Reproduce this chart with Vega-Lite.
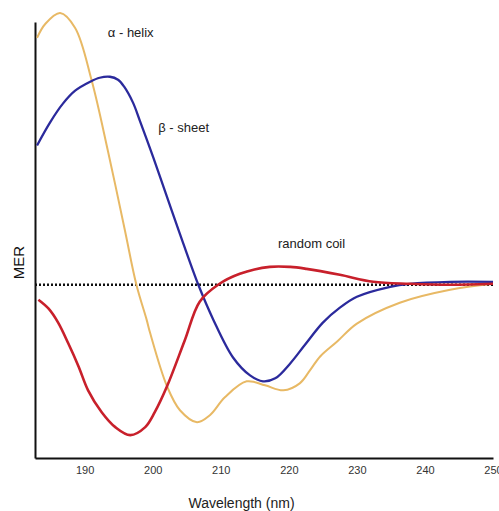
{
  "$schema": "https://vega.github.io/schema/vega-lite/v6.json",
  "width": 458,
  "height": 436,
  "autosize": {"type": "none"},
  "padding": {"left": 35, "top": 22, "right": 6, "bottom": 53},
  "background": "white",
  "config": {"view": {"stroke": null}, "font": "Liberation Sans"},
  "datasets": {
    "curves": [
      {"curve": "α-helix", "wavelength": 183.0, "mer": 2.48},
      {"curve": "α-helix", "wavelength": 184.2, "mer": 2.62},
      {"curve": "α-helix", "wavelength": 186.4, "mer": 2.73},
      {"curve": "α-helix", "wavelength": 188.6, "mer": 2.58},
      {"curve": "α-helix", "wavelength": 191.0, "mer": 2.06},
      {"curve": "α-helix", "wavelength": 193.4, "mer": 1.35},
      {"curve": "α-helix", "wavelength": 195.9, "mer": 0.55},
      {"curve": "α-helix", "wavelength": 197.6, "mer": 0.0},
      {"curve": "α-helix", "wavelength": 199.1, "mer": -0.35},
      {"curve": "α-helix", "wavelength": 199.6, "mer": -0.48},
      {"curve": "α-helix", "wavelength": 202.1, "mer": -1.02},
      {"curve": "α-helix", "wavelength": 204.0, "mer": -1.26},
      {"curve": "α-helix", "wavelength": 206.5, "mer": -1.38},
      {"curve": "α-helix", "wavelength": 208.4, "mer": -1.31},
      {"curve": "α-helix", "wavelength": 210.6, "mer": -1.13},
      {"curve": "α-helix", "wavelength": 213.8, "mer": -0.97},
      {"curve": "α-helix", "wavelength": 216.5, "mer": -1.01},
      {"curve": "α-helix", "wavelength": 219.2, "mer": -1.06},
      {"curve": "α-helix", "wavelength": 221.6, "mer": -0.99},
      {"curve": "α-helix", "wavelength": 223.1, "mer": -0.86},
      {"curve": "α-helix", "wavelength": 224.6, "mer": -0.72},
      {"curve": "α-helix", "wavelength": 227.1, "mer": -0.57},
      {"curve": "α-helix", "wavelength": 230.0, "mer": -0.39},
      {"curve": "α-helix", "wavelength": 236.3, "mer": -0.18},
      {"curve": "α-helix", "wavelength": 243.7, "mer": -0.05},
      {"curve": "α-helix", "wavelength": 250.0, "mer": 0.01},
      {"curve": "β-sheet", "wavelength": 183.0, "mer": 1.40},
      {"curve": "β-sheet", "wavelength": 184.9, "mer": 1.63},
      {"curve": "β-sheet", "wavelength": 186.8, "mer": 1.82},
      {"curve": "β-sheet", "wavelength": 188.6, "mer": 1.95},
      {"curve": "β-sheet", "wavelength": 190.8, "mer": 2.04},
      {"curve": "β-sheet", "wavelength": 192.2, "mer": 2.08},
      {"curve": "β-sheet", "wavelength": 193.7, "mer": 2.09},
      {"curve": "β-sheet", "wavelength": 194.9, "mer": 2.06},
      {"curve": "β-sheet", "wavelength": 195.8, "mer": 1.99},
      {"curve": "β-sheet", "wavelength": 197.1, "mer": 1.83},
      {"curve": "β-sheet", "wavelength": 198.1, "mer": 1.65},
      {"curve": "β-sheet", "wavelength": 199.6, "mer": 1.37},
      {"curve": "β-sheet", "wavelength": 201.0, "mer": 1.10},
      {"curve": "β-sheet", "wavelength": 203.9, "mer": 0.53},
      {"curve": "β-sheet", "wavelength": 206.7, "mer": 0.0},
      {"curve": "β-sheet", "wavelength": 208.9, "mer": -0.35},
      {"curve": "β-sheet", "wavelength": 211.8, "mer": -0.73},
      {"curve": "β-sheet", "wavelength": 214.3, "mer": -0.91},
      {"curve": "β-sheet", "wavelength": 216.2, "mer": -0.97},
      {"curve": "β-sheet", "wavelength": 218.0, "mer": -0.94},
      {"curve": "β-sheet", "wavelength": 220.2, "mer": -0.79},
      {"curve": "β-sheet", "wavelength": 222.4, "mer": -0.60},
      {"curve": "β-sheet", "wavelength": 225.0, "mer": -0.38},
      {"curve": "β-sheet", "wavelength": 227.5, "mer": -0.23},
      {"curve": "β-sheet", "wavelength": 230.0, "mer": -0.12},
      {"curve": "β-sheet", "wavelength": 234.9, "mer": -0.02},
      {"curve": "β-sheet", "wavelength": 237.8, "mer": 0.01},
      {"curve": "β-sheet", "wavelength": 243.7, "mer": 0.03},
      {"curve": "β-sheet", "wavelength": 250.0, "mer": 0.03},
      {"curve": "random coil", "wavelength": 183.2, "mer": -0.15},
      {"curve": "random coil", "wavelength": 184.7, "mer": -0.24},
      {"curve": "random coil", "wavelength": 186.1, "mer": -0.38},
      {"curve": "random coil", "wavelength": 187.6, "mer": -0.59},
      {"curve": "random coil", "wavelength": 189.1, "mer": -0.82},
      {"curve": "random coil", "wavelength": 190.5, "mer": -1.06},
      {"curve": "random coil", "wavelength": 192.5, "mer": -1.28},
      {"curve": "random coil", "wavelength": 194.5, "mer": -1.43},
      {"curve": "random coil", "wavelength": 196.7, "mer": -1.51},
      {"curve": "random coil", "wavelength": 198.9, "mer": -1.43},
      {"curve": "random coil", "wavelength": 200.3, "mer": -1.28},
      {"curve": "random coil", "wavelength": 202.1, "mer": -1.02},
      {"curve": "random coil", "wavelength": 204.7, "mer": -0.56},
      {"curve": "random coil", "wavelength": 206.9, "mer": -0.17},
      {"curve": "random coil", "wavelength": 209.6, "mer": 0.0},
      {"curve": "random coil", "wavelength": 212.8, "mer": 0.11},
      {"curve": "random coil", "wavelength": 217.2, "mer": 0.18},
      {"curve": "random coil", "wavelength": 220.2, "mer": 0.18},
      {"curve": "random coil", "wavelength": 222.6, "mer": 0.16},
      {"curve": "random coil", "wavelength": 227.5, "mer": 0.10},
      {"curve": "random coil", "wavelength": 232.4, "mer": 0.03},
      {"curve": "random coil", "wavelength": 237.8, "mer": 0.01},
      {"curve": "random coil", "wavelength": 243.7, "mer": 0.0},
      {"curve": "random coil", "wavelength": 250.0, "mer": 0.01}
    ],
    "labels": [
      {"label": "α - helix", "wavelength": 193.4, "mer": 2.53},
      {"label": "β - sheet", "wavelength": 200.8, "mer": 1.58},
      {"label": "random coil", "wavelength": 218.4, "mer": 0.41}
    ]
  },
  "layer": [
    {
      "data": {"values": [{"mer": 0}]},
      "mark": {"type": "rule", "color": "#111111", "strokeWidth": 2.5, "strokeDash": [2, 2], "clip": false},
      "encoding": {"y": {"field": "mer", "type": "quantitative"}}
    },
    {
      "data": {"name": "curves"},
      "mark": {"type": "line", "interpolate": "catmull-rom"},
      "encoding": {
        "x": {
          "field": "wavelength",
          "type": "quantitative",
          "scale": {"domain": [182.7, 250], "nice": false, "zero": false},
          "axis": {
            "values": [190, 200, 210, 220, 230, 240, 250],
            "title": "Wavelength (nm)",
            "grid": false,
            "ticks": false,
            "domainColor": "#111111",
            "domainWidth": 2,
            "labelFont": "Liberation Sans",
            "labelFontSize": 11,
            "labelColor": "#333333",
            "labelPadding": 6,
            "labelFlush": false,
            "labelOverlap": false,
            "titleFont": "Liberation Sans",
            "titleFontSize": 14,
            "titleFontWeight": "normal",
            "titleColor": "#222222",
            "titleX": 206,
            "titleY": 45,
            "titleBaseline": "middle"
          }
        },
        "y": {
          "field": "mer",
          "type": "quantitative",
          "scale": {"domain": [-1.74, 2.64], "nice": false, "zero": false},
          "axis": {
            "title": "MER",
            "labels": false,
            "ticks": false,
            "grid": false,
            "domainColor": "#111111",
            "domainWidth": 2,
            "titleFont": "Liberation Sans",
            "titleFontSize": 15,
            "titleFontWeight": "normal",
            "titleColor": "#111111",
            "titleX": -17,
            "titleY": 240,
            "titleAngle": -90,
            "titleBaseline": "middle"
          }
        },
        "color": {
          "field": "curve",
          "type": "nominal",
          "scale": {"domain": ["α-helix", "β-sheet", "random coil"], "range": ["#E8B965", "#2B2A9C", "#C8202B"]},
          "legend": null
        },
        "strokeWidth": {
          "field": "curve",
          "type": "nominal",
          "scale": {"domain": ["α-helix", "β-sheet", "random coil"], "range": [2, 2.6, 2.4]},
          "legend": null
        }
      }
    },
    {
      "data": {"name": "labels"},
      "mark": {"type": "text", "align": "left", "baseline": "middle", "font": "Liberation Sans", "fontSize": 13, "color": "#222222"},
      "encoding": {
        "x": {"field": "wavelength", "type": "quantitative"},
        "y": {"field": "mer", "type": "quantitative"},
        "text": {"field": "label"}
      }
    }
  ]
}
